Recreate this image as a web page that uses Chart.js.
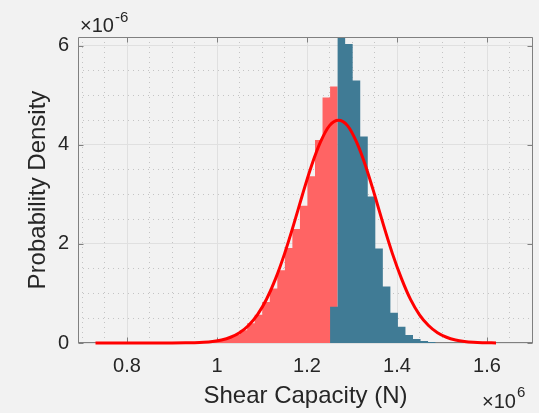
<!DOCTYPE html>
<html lang="en">
<head>
<meta charset="UTF-8">
<title>Shear capacity histogram</title>
<script src="https://cdn.jsdelivr.net/npm/chart.js"></script>
<style>
  body { margin: 0; background: #f2f2f2; }
</style>
</head>
<body>
<canvas id="histChart" width="539" height="413"></canvas>
<script>
  // shear capacity in units of 10^6 N, density in units of 10^-6
  const binEdges = [0.9665, 0.9833, 1.0, 1.0168, 1.0335, 1.0503, 1.067, 1.0838, 1.1005, 1.1173,
    1.134, 1.1508, 1.1675, 1.1843, 1.201, 1.2178, 1.2345, 1.2513, 1.268, 1.2848,
    1.3015, 1.3183, 1.335, 1.3518, 1.3685, 1.3853, 1.402, 1.4188, 1.4355, 1.4523,
    1.469, 1.4858];
  const redDensity = [0.02, 0.03, 0.06, 0.10, 0.16, 0.26, 0.40, 0.57, 0.83, 1.10,
    1.47, 1.92, 2.30, 2.77, 3.37, 4.10, 4.96, 5.18];
  const tealDensity = [0, 0, 0, 0, 0, 0, 0, 0, 0, 0,
    0, 0, 0, 0, 0, 0, 0, 0.73, 6.6, 6.04,
    5.30, 4.17, 2.96, 1.91, 1.14, 0.61, 0.33, 0.16, 0.08, 0.04, 0.02];
  const curveX = [0.73, 0.80, 0.86, 0.90, 0.93, 0.95, 0.97, 0.99, 1.01, 1.03, 1.05, 1.07,
    1.09, 1.11, 1.13, 1.15, 1.17, 1.19, 1.21, 1.23, 1.25, 1.27, 1.29, 1.31, 1.33,
    1.35, 1.37, 1.39, 1.41, 1.43, 1.45, 1.47, 1.49, 1.51, 1.53, 1.55, 1.57, 1.59, 1.62];
  const curveY = [0, 0, 0.0001, 0.0007, 0.003, 0.0067, 0.015, 0.031, 0.061, 0.116, 0.208, 0.354,
    0.574, 0.884, 1.296, 1.80, 2.38, 3.00, 3.58, 4.06, 4.39, 4.50, 4.39, 4.06, 3.58,
    3.00, 2.38, 1.80, 1.30, 0.88, 0.57, 0.354, 0.208, 0.116, 0.061, 0.031, 0.015, 0.007, 0.002];

  const xTicks = [0.8, 1, 1.2, 1.4, 1.6];
  const yTicks = [0, 2, 4, 6];
  const xMinor = [0.7, 0.75, 0.85, 0.9, 0.95, 1.05, 1.1, 1.15, 1.25, 1.3, 1.35, 1.45, 1.5, 1.55, 1.65, 1.7];
  const yMinor = [0.5, 1, 1.5, 2.5, 3, 3.5, 4.5, 5, 5.5];
  const xMin = 0.6911, xMax = 1.7022;
  const yMin = 0, yMax = 6.18;

  const FONT = "'Liberation Sans', Arial, Helvetica, sans-serif";
  const TEXT = '#262626';
  const AXIS = '#808080';

  // histogram as a stepped outline, one point per left bin edge
  function steps(values) {
    return binEdges.map((x, i) => ({ x: x, y: i < values.length ? values[i] : 0 }));
  }

  const axesBox = {
    id: 'axesBox',
    afterDatasetsDraw(chart) {
      const { ctx, chartArea: a, scales } = chart;
      const L = a.left + 0.5, R = a.right - 0.5, T = a.top + 0.5, B = a.bottom - 0.5;
      ctx.save();
      ctx.strokeStyle = AXIS;
      ctx.lineWidth = 1;
      ctx.beginPath();
      ctx.moveTo(L, B); ctx.lineTo(L, T); ctx.lineTo(R, T); ctx.lineTo(R, B);
      xTicks.forEach(v => {
        const px = Math.round(scales.x.getPixelForValue(v)) + 0.5;
        ctx.moveTo(px, T); ctx.lineTo(px, T + 5);
      });
      yTicks.forEach(v => {
        const py = Math.round(scales.y.getPixelForValue(v)) + 0.5;
        ctx.moveTo(L, py); ctx.lineTo(L + 5, py);
        ctx.moveTo(R, py); ctx.lineTo(R - 5, py);
      });
      ctx.stroke();

      // exponent labels
      ctx.fillStyle = TEXT;
      ctx.textAlign = 'left';
      ctx.textBaseline = 'alphabetic';
      ctx.font = '20px ' + FONT;
      ctx.fillText('×10', 80, 32);
      let w = ctx.measureText('×10').width;
      ctx.font = '15px ' + FONT;
      ctx.fillText('-6', 80 + w + 1, 22);

      ctx.font = '20px ' + FONT;
      ctx.fillText('×10', 482, 408);
      w = ctx.measureText('×10').width;
      ctx.font = '15px ' + FONT;
      ctx.fillText('6', 482 + w + 1, 397);
      ctx.restore();
    }
  };

  // bottom axis line and ticks go under the fitted curve
  const bottomAxis = {
    id: 'bottomAxis',
    beforeDatasetsDraw(chart) {
      const { ctx, chartArea: a, scales } = chart;
      const B = a.bottom - 0.5;
      ctx.save();
      ctx.strokeStyle = AXIS;
      ctx.lineWidth = 1;
      ctx.beginPath();
      ctx.moveTo(a.left, B); ctx.lineTo(a.right, B);
      xTicks.forEach(v => {
        const px = Math.round(scales.x.getPixelForValue(v)) + 0.5;
        ctx.moveTo(px, B); ctx.lineTo(px, B - 5);
      });
      ctx.stroke();
      ctx.restore();
    }
  };

  const ctx = document.getElementById('histChart').getContext('2d');
  const chart = new Chart(ctx, {
    type: 'line',
    data: {
      datasets: [
        {
          label: 'Normal fit',
          data: curveX.map((x, i) => ({ x: x, y: curveY[i] })),
          borderColor: '#ff0000',
          borderWidth: 3,
          pointRadius: 0,
          cubicInterpolationMode: 'monotone',
          fill: false,
          clip: { left: 0, top: 0, right: 0, bottom: 3 },
          order: 0
        },
        {
          label: 'Upper',
          data: steps(tealDensity),
          stepped: true,
          borderWidth: 0,
          pointRadius: 0,
          backgroundColor: '#407b95',
          fill: 'origin',
          order: 1
        },
        {
          label: 'Lower',
          data: steps(redDensity),
          stepped: true,
          borderWidth: 0,
          pointRadius: 0,
          backgroundColor: '#ff6464',
          fill: 'origin',
          order: 2
        }
      ]
    },
    options: {
      responsive: false,
      animation: false,
      layout: { padding: { top: 37, right: 6, left: 0, bottom: 0 } },
      plugins: { legend: { display: false }, tooltip: { enabled: false } },
      scales: {
        x: {
          type: 'linear',
          min: xMin, max: xMax,
          afterBuildTicks: s => { s.ticks = xTicks.map(v => ({ value: v })); },
          afterFit: s => { s.height = 70; },
          ticks: {
            padding: 11,
            color: TEXT,
            font: { family: FONT, size: 20 },
            callback: v => String(Math.round(v * 10) / 10)
          },
          grid: { color: '#e0e0e0', drawTicks: false },
          border: { display: false },
          title: {
            display: true,
            text: 'Shear Capacity (N)',
            color: TEXT,
            font: { family: FONT, size: 24 },
            padding: { top: 0, bottom: 2 }
          }
        },
        y: {
          type: 'linear',
          min: yMin, max: yMax,
          afterBuildTicks: s => { s.ticks = yTicks.map(v => ({ value: v })); },
          afterFit: s => { s.width = 78; },
          ticks: {
            padding: 9,
            color: TEXT,
            font: { family: FONT, size: 20 }
          },
          grid: { color: '#e0e0e0', drawTicks: false },
          border: { display: false },
          title: {
            display: true,
            text: 'Probability Density',
            color: TEXT,
            font: { family: FONT, size: 24 },
            padding: { top: 24, bottom: 0 }
          }
        },
        xMinor: {
          type: 'linear',
          position: 'top',
          min: xMin, max: xMax,
          afterBuildTicks: s => { s.ticks = xMinor.map(v => ({ value: v })); },
          afterFit: s => { s.height = 0; },
          ticks: { display: false },
          grid: { color: '#c4c4c4', drawTicks: false },
          border: { display: false, dash: [1, 4] }
        },
        yMinor: {
          type: 'linear',
          position: 'right',
          min: yMin, max: yMax,
          afterBuildTicks: s => { s.ticks = yMinor.map(v => ({ value: v })); },
          afterFit: s => { s.width = 0; },
          ticks: { display: false },
          grid: { color: '#c4c4c4', drawTicks: false },
          border: { display: false, dash: [1, 4] }
        }
      }
    },
    plugins: [bottomAxis, axesBox]
  });
</script>
</body>
</html>
